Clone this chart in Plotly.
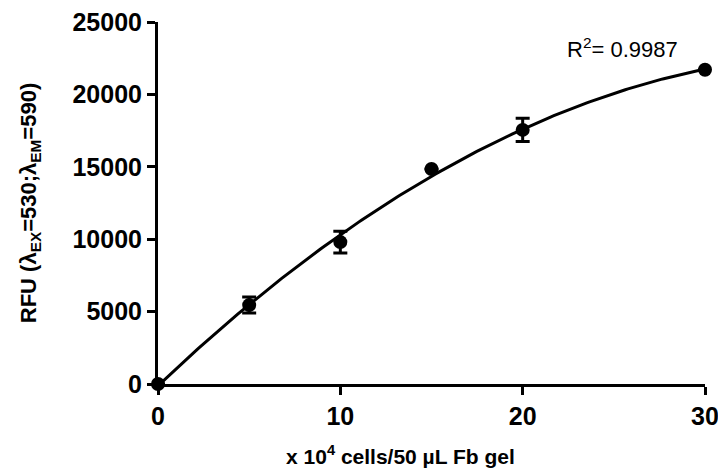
import numpy as np
import plotly.graph_objects as go

cells = [0, 5, 10, 15, 20, 30]
rfu = [0, 5450, 9800, 14850, 17550, 21700]
rfu_err = [0, 550, 750, 0, 800, 0]
r2_text = "R<sup>2</sup>= 0.9987"
x_title = "x 10<sup>4</sup> cells/50 µL Fb gel"
y_title = "RFU (λ<sub>EX</sub>=530;λ<sub>EM</sub>=590)"
x_ticks = [0, 10, 20, 30]
y_ticks = [0, 5000, 10000, 15000, 20000, 25000]

coef = np.polyfit(cells, rfu, 2)
xf = np.linspace(0, 30, 200)
yf = np.polyval(coef, xf)

fig = go.Figure()
fig.add_trace(go.Scatter(x=xf, y=yf, mode="lines", line=dict(color="black", width=3),
                         hoverinfo="skip", cliponaxis=False))
fig.add_trace(go.Scatter(x=cells, y=rfu, mode="markers",
                         marker=dict(color="black", size=14),
                         error_y=dict(type="data", array=rfu_err, color="black", thickness=3, width=7),
                         cliponaxis=False))

font_b = dict(family="Liberation Sans, Arial", size=25, color="black", weight="bold")
fig.update_layout(
    width=718, height=472, showlegend=False,
    plot_bgcolor="white", paper_bgcolor="white",
    margin=dict(l=158, r=13, t=22, b=88),
    xaxis=dict(range=[0, 30], tickvals=x_ticks, ticktext=[str(v) for v in x_ticks], automargin=False,
               ticklabeloverflow="allow",
               showline=True, linecolor="black", linewidth=3,
               ticks="outside", ticklen=8, tickwidth=3, tickcolor="black", showgrid=False, zeroline=False,
               tickfont=font_b),
    yaxis=dict(range=[0, 25000], tickvals=y_ticks, ticktext=[str(v) for v in y_ticks], automargin=False,
               ticklabeloverflow="allow",
               showline=True, linecolor="black", linewidth=3,
               ticks="outside", ticklen=8, tickwidth=3, tickcolor="black", showgrid=False, zeroline=False,
               tickfont=font_b,
               title=dict(text=y_title,
                          font=dict(family="Liberation Sans, Arial", size=22, color="black", weight="bold"),
                          standoff=30)),
    annotations=[
        dict(x=28.65, y=23200, xref="x", yref="y", xanchor="right", text=r2_text, showarrow=False,
             font=dict(family="Liberation Sans, Arial", size=22, color="black")),
        dict(x=0.444, y=-0.196, xref="paper", yref="paper", yanchor="middle", text=x_title, showarrow=False,
             font=dict(family="Liberation Sans, Arial", size=21, color="black", weight="bold")),
    ],
)
fig.write_html("out.html")
